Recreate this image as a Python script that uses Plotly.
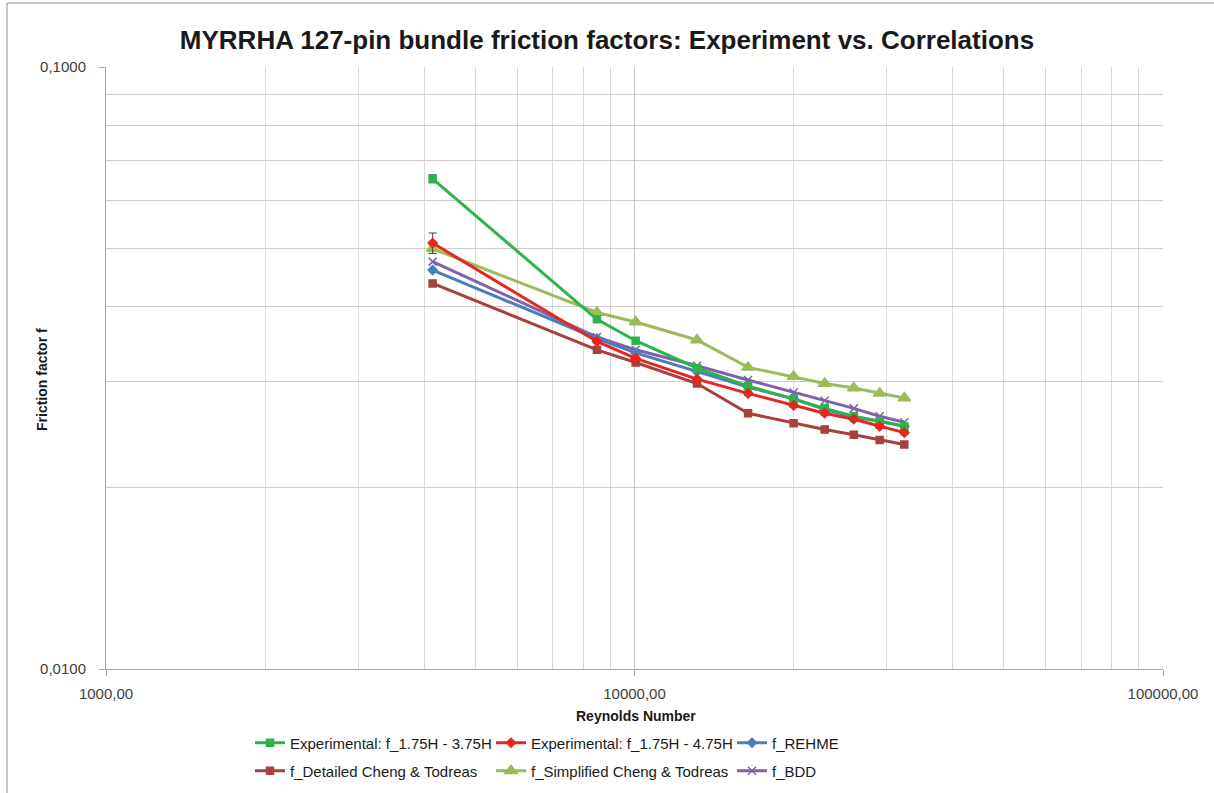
import plotly.graph_objects as go

reynolds = [4150, 8490, 10050, 13130, 16400, 20000, 22900, 26000, 29100, 32400]

f_exp_375 = [0.0652, 0.0381, 0.0351, 0.0316, 0.0295, 0.0281, 0.0271, 0.0263, 0.0258, 0.0253]
f_exp_475 = [0.0510, 0.0350, 0.0328, 0.0303, 0.0287, 0.0274, 0.0266, 0.0260, 0.0253, 0.0247]
f_rehme = [0.0460, 0.0354, 0.0335, 0.0312, 0.0294, 0.0281, 0.0270, 0.0262, 0.0258, 0.0253]
f_detailed_ct = [0.0437, 0.0339, 0.0323, 0.0298, 0.0266, 0.0256, 0.0250, 0.0245, 0.0240, 0.0236]
f_simplified_ct = [0.0499, 0.0391, 0.0377, 0.0352, 0.0317, 0.0306, 0.0298, 0.0293, 0.0287, 0.0282]
f_bdd = [0.0475, 0.0356, 0.0339, 0.0319, 0.0302, 0.0288, 0.0279, 0.0271, 0.0263, 0.0257]

err_exp_375 = [0.0010, 0.0002, 0.0002, 0.0002, 0.0002, 0.0002, 0.0002, 0.0002, 0.0002, 0.0002]
err_exp_475 = [0.0020, 0.0002, 0.0002, 0.0002, 0.0002, 0.0002, 0.0002, 0.0002, 0.0002, 0.0002]

names = ["Experimental: f_1.75H - 3.75H", "Experimental: f_1.75H - 4.75H", "f_REHME",
         "f_Detailed Cheng & Todreas", "f_Simplified Cheng & Todreas", "f_BDD"]

x_tick_vals = [1000, 10000, 100000]
x_tick_text = ["1000,00", "10000,00", "100000,00"]
y_tick_vals = [0.01, 0.1]
y_tick_text = ["0,0100", "0,1000"]

FONT = "Liberation Sans, Arial, sans-serif"

fig = go.Figure()

series = [
    (f_detailed_ct, "#A8403C", "square", 7, None, "legend2", names[3], 1),
    (f_simplified_ct, "#9BBB59", "triangle-up", 11, None, "legend2", names[4], 2),
    (f_bdd, "#7F62A8", "x-thin", 8, None, "legend2", names[5], 3),
    (f_rehme, "#4A7EBB", "diamond", 7, None, "legend", names[2], 3),
    (f_exp_375, "#2DB34A", "square", 7, err_exp_375, "legend", names[0], 1),
    (f_exp_475, "#E8261E", "diamond", 7, err_exp_475, "legend", names[1], 2),
]

for vals, col, sym, size, err, leg, name, rank in series:
    kw = {}
    if err is not None:
        kw["error_y"] = dict(type="data", array=err, visible=True, color="#404040",
                             thickness=1, width=4)
    fig.add_trace(go.Scatter(
        x=reynolds, y=vals, mode="lines+markers", name=name, legend=leg, legendrank=rank,
        line=dict(color=col, width=3),
        marker=dict(color=col, symbol=sym, size=size, line=dict(color=col, width=1.5)),
        **kw))

legend_font = dict(family=FONT, size=15, color="#1a1a1a")
fig.update_layout(
    width=1214, height=793,
    margin=dict(l=106, r=51, t=67, b=124, autoexpand=False),
    paper_bgcolor="white", plot_bgcolor="white",
    font=dict(family=FONT, color="#404040", size=13),
    title=dict(text="<b>MYRRHA 127-pin bundle friction factors: Experiment vs. Correlations</b>",
               x=0.5, xanchor="center", xref="container",
               y=1 - 40 / 793, yanchor="middle", yref="container",
               font=dict(family=FONT, size=26, color="#1a1a1a")),
    legend=dict(orientation="h", x=250 / 1214, xref="container", xanchor="left",
                y=1 - 743 / 793, yref="container", yanchor="middle",
                entrywidth=196, font=legend_font, itemwidth=30,
                bgcolor="rgba(0,0,0,0)", borderwidth=0),
    legend2=dict(orientation="h", x=250 / 1214, xref="container", xanchor="left",
                 y=1 - 771 / 793, yref="container", yanchor="middle",
                 entrywidth=196, font=legend_font, itemwidth=30,
                 bgcolor="rgba(0,0,0,0)", borderwidth=0),
    showlegend=True,
)

fig.update_xaxes(
    type="log", range=[3, 5],
    tickvals=x_tick_vals, ticktext=x_tick_text,
    showgrid=True, gridcolor="#C9C2C2", gridwidth=1,
    minor=dict(dtick="D1", showgrid=True, gridcolor="#D9D9D9", gridwidth=1, ticks=""),
    showline=True, linecolor="#A6A6A6", linewidth=1,
    ticks="outside", ticklen=6, tickcolor="#A6A6A6", ticklabelstandoff=5,
    tickfont=dict(family=FONT, size=15, color="#404040"),
    zeroline=False,
)
fig.update_yaxes(
    type="log", range=[-2, -1],
    tickvals=y_tick_vals, ticktext=y_tick_text,
    showgrid=True, gridcolor="#C9C2C2", gridwidth=1,
    minor=dict(dtick="D1", showgrid=True, gridcolor="#D3CBCB", gridwidth=1, ticks=""),
    showline=True, linecolor="#A6A6A6", linewidth=1,
    ticks="outside", ticklen=6, tickcolor="#A6A6A6", ticklabelstandoff=10,
    tickfont=dict(family=FONT, size=15, color="#404040"),
    zeroline=False,
)

# axis titles
fig.add_annotation(text="<b>Reynolds Number</b>", xref="paper", yref="paper",
                   x=(636 - 106) / 1057, y=(669 - 716) / 602, showarrow=False,
                   xanchor="center", yanchor="middle",
                   font=dict(family=FONT, size=14, color="#1a1a1a"))
fig.add_annotation(text="<b>Friction factor f</b>", xref="paper", yref="paper",
                   x=(42 - 106) / 1057, y=(669 - 380) / 602, showarrow=False,
                   textangle=-90, xanchor="center", yanchor="middle",
                   font=dict(family=FONT, size=14, color="#1a1a1a"))

# outer chart-area frame (top and left edges)
fig.add_shape(type="line", xref="paper", yref="paper",
              x0=(7 - 106) / 1057, x1=(1214 - 106) / 1057,
              y0=(669 - 3) / 602, y1=(669 - 3) / 602,
              line=dict(color="#8C8C8C", width=1))
fig.add_shape(type="line", xref="paper", yref="paper",
              x0=(7 - 106) / 1057, x1=(7 - 106) / 1057,
              y0=(669 - 3) / 602, y1=(669 - 793) / 602,
              line=dict(color="#8C8C8C", width=1))

fig.write_html("out.html", config={"displayModeBar": False},
               post_script="document.body.style.margin='0';document.body.style.overflow='hidden';")
